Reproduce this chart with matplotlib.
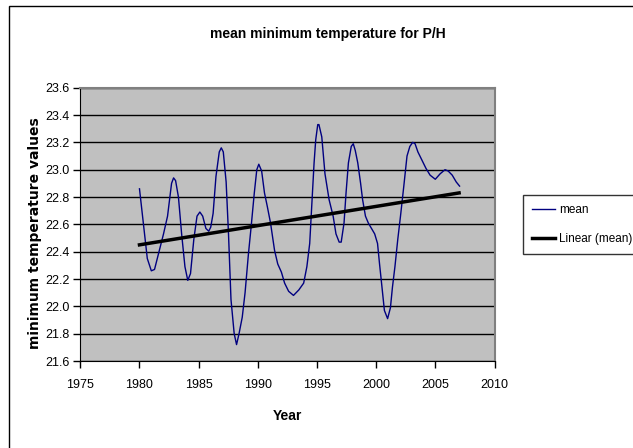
import numpy as np
import matplotlib
matplotlib.use('Agg')
import matplotlib.pyplot as plt
from matplotlib.patches import Rectangle
from matplotlib.ticker import FormatStrFormatter

# data
years = [1980.0, 1980.66, 1981.0, 1981.27, 1982.03, 1982.37, 1982.71, 1982.88, 1983.05, 1983.29,
         1983.56, 1983.84, 1984.08, 1984.31, 1984.59, 1984.86, 1985.1, 1985.34, 1985.61, 1985.85,
         1986.02, 1986.22, 1986.46, 1986.74, 1986.91, 1987.08, 1987.32, 1987.52, 1987.73, 1988.0,
         1988.2, 1988.41, 1988.68, 1988.92, 1989.2, 1989.43, 1989.7, 1989.91, 1990.08, 1990.32,
         1990.56, 1990.8, 1991.07, 1991.41, 1991.68, 1991.99, 1992.26, 1992.6, 1993.01, 1993.46,
         1993.87, 1994.14, 1994.38, 1994.58, 1994.75, 1994.89, 1995.06, 1995.16, 1995.4, 1995.67,
         1996.02, 1996.36, 1996.6, 1996.87, 1997.04, 1997.28, 1997.45, 1997.65, 1997.89, 1998.06,
         1998.23, 1998.44, 1998.68, 1998.85, 1999.09, 1999.33, 1999.6, 1999.87, 2000.11, 2000.28,
         2000.45, 2000.69, 2000.96, 2001.2, 2001.37, 2001.58, 2001.82, 2002.05, 2002.33, 2002.6,
         2002.84, 2003.08, 2003.28, 2003.52, 2003.86, 2004.2, 2004.55, 2004.99, 2005.4, 2005.81,
         2006.08, 2006.42, 2006.76, 2007.04]
mean_temp = [22.86, 22.35, 22.26, 22.27, 22.53, 22.66, 22.90, 22.94, 22.92, 22.80,
             22.53, 22.29, 22.19, 22.24, 22.49, 22.66, 22.69, 22.66, 22.57, 22.55,
             22.58, 22.68, 22.95, 23.13, 23.16, 23.13, 22.91, 22.53, 22.05, 21.80,
             21.72, 21.80, 21.92, 22.10, 22.38, 22.58, 22.83, 23.00, 23.04, 22.99,
             22.83, 22.73, 22.61, 22.41, 22.31, 22.25, 22.17, 22.11, 22.08, 22.12,
             22.17, 22.29, 22.46, 22.78, 23.05, 23.22, 23.33, 23.33, 23.24, 22.97,
             22.78, 22.66, 22.53, 22.47, 22.47, 22.61, 22.83, 23.05, 23.17, 23.19,
             23.14, 23.05, 22.90, 22.78, 22.66, 22.61, 22.57, 22.53, 22.46, 22.31,
             22.17, 21.97, 21.91, 21.99, 22.14, 22.29, 22.49, 22.66, 22.88, 23.10,
             23.17, 23.20, 23.19, 23.13, 23.07, 23.01, 22.96, 22.93, 22.97, 23.00,
             22.99, 22.96, 22.91, 22.88]
trend_years = [1980, 2007]
trend_vals = [22.45, 22.83]

W, H = 633, 448
fig = plt.figure(figsize=(W / 100, H / 100), dpi=100)
fig.patch.set_facecolor('white')

narrow = ['Liberation Sans', 'DejaVu Sans']

# outer chart border (runs off the right and bottom edge)
fig.patches.append(Rectangle((8.5 / W, -0.1), 1.2, 1 - 6 / H + 0.1, transform=fig.transFigure,
                             fill=False, edgecolor='black', linewidth=1))

ax = fig.add_axes([80.3 / W, 1 - 361 / H, (494.6 - 80.3) / W, (361 - 87.7) / H])
ax.set_facecolor('#c0c0c0')

ax.plot(years, mean_temp, color='#000080', linewidth=1, label='mean')
ax.plot(trend_years, trend_vals, color='black', linewidth=2.5, label='Linear (mean)')

ax.set_xlim(1975, 2010)
ax.set_ylim(21.6, 23.6)
ax.set_xticks(np.arange(1975, 2011, 5))
ax.set_yticks(np.arange(21.6, 23.61, 0.2))
ax.yaxis.set_major_formatter(FormatStrFormatter('%.1f'))
ax.yaxis.grid(True, color='black', linewidth=1)
ax.set_axisbelow(True)

for s in ['top', 'right']:
    ax.spines[s].set_color('#808080')
    ax.spines[s].set_linewidth(1.5)
for s in ['left', 'bottom']:
    ax.spines[s].set_color('black')
ax.tick_params(direction='out', length=5, width=1, color='black', labelsize=9)
ax.tick_params(axis='x', pad=8)
ax.tick_params(axis='y', pad=3)
for lab in ax.get_xticklabels() + ax.get_yticklabels():
    lab.set_family(narrow)

fig.text(327.5 / W, 1 - 34 / H, 'mean minimum temperature for P/H', ha='center', va='center',
         fontsize=10, fontweight='bold', family=narrow)
fig.text(287 / W, 1 - 416 / H, 'Year', ha='center', va='center',
         fontsize=10, fontweight='bold', family=narrow)
fig.text(35.5 / W, 1 - 233 / H, 'minimum temperature values', ha='center', va='center',
         rotation=90, fontsize=10, fontweight='bold', family='DejaVu Sans')

leg = fig.legend(loc='upper left', bbox_to_anchor=(523 / W, 1 - 195 / H),
                 prop={'family': narrow, 'size': 8.5}, frameon=True, fancybox=False,
                 edgecolor='black', handlelength=2.0, handletextpad=0.3,
                 labelspacing=1.45, borderpad=0.75, borderaxespad=0)
leg.get_frame().set_linewidth(1)

fig.savefig('out.png', dpi=100)
